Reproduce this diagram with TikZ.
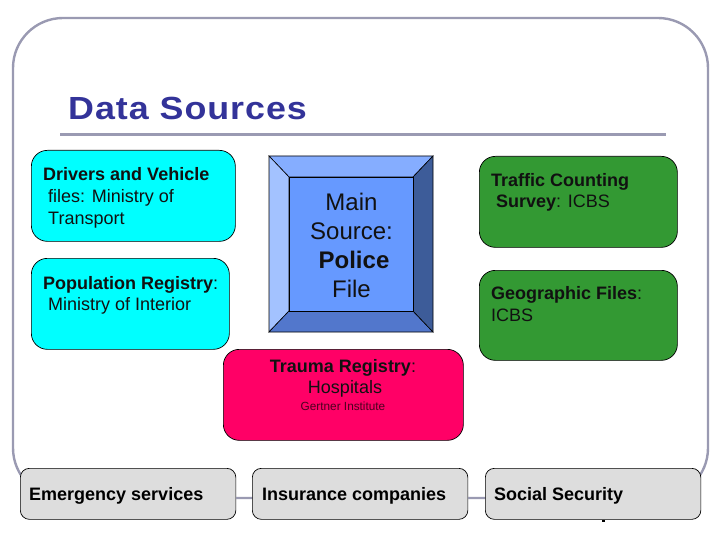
\documentclass[tikz,border=0pt]{standalone}
\usepackage{fontspec}
\setmainfont{Liberation Sans}
\definecolor{framec}{HTML}{9A9AB2}
\definecolor{titlec}{HTML}{333399}
\definecolor{cyanc}{HTML}{00FFFF}
\definecolor{greenc}{HTML}{339933}
\definecolor{redc}{HTML}{FF0066}
\definecolor{greyc}{HTML}{DDDDDD}
\definecolor{bevC}{HTML}{6699FF}
\definecolor{bevT}{HTML}{85ADFF}
\definecolor{bevL}{HTML}{A3C2FF}
\definecolor{bevB}{HTML}{5277CC}
\definecolor{bevR}{HTML}{3D5C99}
\definecolor{txtc}{HTML}{111111}
\tikzset{
  x=1pt,y=-1pt,
  frameline/.style={draw=framec,line width=2.4pt},
  source/.style={draw=black,line width=0.7pt,rounded corners=16pt,inner sep=0pt,anchor=north west},
  lowbox/.style={draw=black,line width=0.7pt,fill=greyc,rounded corners=9pt,inner sep=0pt,anchor=north west,minimum width=215.5pt,minimum height=51pt},
  label/.style={inner sep=0pt,align=left,anchor=north west,text=txtc,font=\fontsize{18}{21.7}\selectfont},
  lowlabel/.style={inner sep=0pt,anchor=west,text=black,font=\fontsize{18}{21}\selectfont\bfseries},
  bevface/.style={draw=black,line width=0.6pt},
}
\begin{document}
\begin{tikzpicture}
\useasboundingbox (0,0) rectangle (720,540);
% frame and title rule
\draw[frameline,fill=white,rounded corners=50pt] (13,18) rectangle (708,498);
\coordinate (ruleL) at (60,134.5);
\coordinate (ruleR) at (666,134.5);
\draw[frameline] (ruleL) -- (ruleR);
\node[inner sep=0pt,anchor=base west,text=titlec,font=\fontsize{32}{36}\selectfont\bfseries\addfontfeature{FakeStretch=1.12,LetterSpace=3}] (title) at (68,120) {Data Sources};
% left sources
\node[source,fill=cyanc,minimum width=204pt,minimum height=91pt] (drivers) at (31,150) {};
\node[label] (driversT) at (43,167.5) {\textbf{Drivers and Vehicle}\\\hspace*{5pt}files: Ministry of\\\hspace*{5pt}Transport};
\node[source,fill=cyanc,minimum width=198pt,minimum height=91pt] (pop) at (31,258) {};
\node[label] (popT) at (43,276) {\textbf{Population Registry}:\\\hspace*{5pt}Ministry of Interior};
% bevel
\coordinate (oa) at (269,156);\coordinate (ob) at (433,156);\coordinate (oc) at (433,332);\coordinate (od) at (269,332);
\coordinate (ia) at (289,177);\coordinate (ib) at (413,177);\coordinate (ic) at (413,311);\coordinate (id) at (289,311);
\draw[bevface,fill=bevT] (oa)--(ob)--(ib)--(ia)--cycle;
\draw[bevface,fill=bevL] (oa)--(ia)--(id)--(od)--cycle;
\draw[bevface,fill=bevB] (od)--(id)--(ic)--(oc)--cycle;
\draw[bevface,fill=bevR] (ob)--(oc)--(ic)--(ib)--cycle;
\draw[bevface,fill=bevC] (ia)--(ib)--(ic)--(id)--cycle;
\node[inner sep=0pt,align=center,text=txtc,anchor=north,font=\fontsize{24}{29}\selectfont] (main) at (351.5,193) {Main\\Source:\\\hspace*{5pt}\textbf{Police}\\File};
% right sources
\node[source,fill=greenc,minimum width=198pt,minimum height=91pt] (traffic) at (479,156) {};
\node[label] (trafficT) at (491,173) {\textbf{Traffic Counting}\\\hspace*{5pt}\textbf{Survey}: ICBS};
\node[source,fill=greenc,minimum width=198pt,minimum height=90pt] (geo) at (479,270) {};
\node[label] (geoT) at (491,286.5) {\textbf{Geographic Files}:\\ICBS};
% trauma
\node[source,fill=redc,minimum width=240pt,minimum height=91pt] (trauma) at (223,349) {};
\node[inner sep=0pt,align=center,anchor=north,text=txtc,font=\fontsize{18}{21}\selectfont] (traumaT) at (343,359.5) {\textbf{Trauma Registry}:\\\hspace*{4pt}Hospitals};
\node[inner sep=0pt,anchor=base,text=black!70!redc,font=\fontsize{11.8}{13}\selectfont] (gertner) at (343,410) {Gertner Institute};
% bottom row
\node[lowbox] (emerg) at (20,468) {};
\node[lowbox] (ins) at (252,468) {};
\node[lowbox] (soc) at (485,468) {};
\node[lowlabel] (emergT) at (29,496) {Emergency services};
\node[lowlabel] (insT) at (262,496) {Insurance companies};
\node[lowlabel] (socT) at (494,496) {Social Security};
\draw[frameline] (emerg.east |- 0,498) -- (ins.west |- 0,498);
\draw[frameline] (ins.east |- 0,498) -- (soc.west |- 0,498);
\fill[black] (602,519.5) rectangle (605,521.5);
\end{tikzpicture}
\end{document}
